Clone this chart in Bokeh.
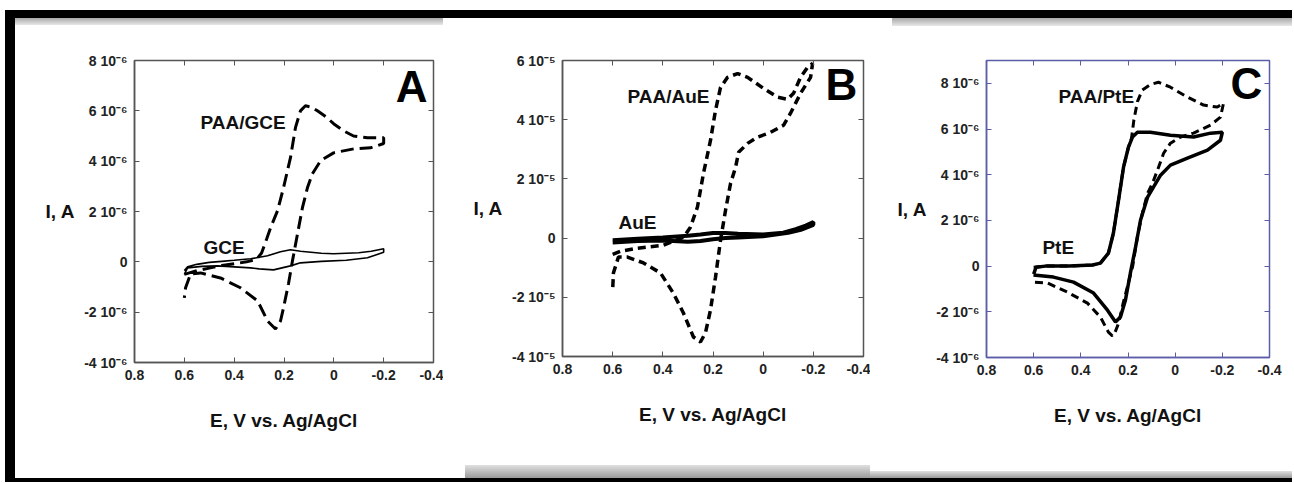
from bokeh.plotting import figure
from bokeh.models import Range1d, LinearAxis, FixedTicker, Label, Spacer
from bokeh.layouts import row, column
from bokeh.embed import file_html
from bokeh.resources import INLINE

# ---------------- data ----------------
x_ticks = [0.8, 0.6, 0.4, 0.2, 0.0, -0.2, -0.4]
x_tick_labels = ["0.8", "0.6", "0.4", "0.2", "0", "-0.2", "-0.4"]

# Panel A (current in units of 1e-6 A)
A_paa_E = [0.60, 0.55, 0.50, 0.45, 0.40, 0.35, 0.31, 0.29, 0.27, 0.254, 0.226, 0.202, 0.174, 0.154, 0.134, 0.114, 0.09, 0.066, 0.03, 0.001, -0.04, -0.079, -0.135, -0.20,
           -0.20, -0.147, -0.08, 0.001, 0.053, 0.086, 0.106, 0.126, 0.146, 0.166, 0.182, 0.202, 0.214, 0.234, 0.266, 0.306, 0.375, 0.455, 0.535, 0.575, 0.595, 0.60]
A_paa_I = [-0.50, -0.35, -0.25, -0.15, -0.08, 0.0, 0.1, 0.35, 0.9, 1.35, 2.03, 2.94, 4.14, 5.33, 6.0, 6.2, 6.15, 6.0, 5.75, 5.49, 5.2, 5.0, 4.93, 4.93,
           4.7, 4.53, 4.49, 4.33, 4.02, 3.5, 2.94, 2.15, 1.1, 0.04, -0.87, -1.83, -2.35, -2.67, -2.35, -1.55, -1.03, -0.64, -0.44, -0.48, -1.03, -1.43]
A_gce_E = [0.60, 0.587, 0.55, 0.50, 0.45, 0.40, 0.334, 0.266, 0.214, 0.174, 0.134, 0.05, 0.001, -0.10, -0.15, -0.20,
           -0.20, -0.135, -0.05, 0.05, 0.134, 0.174, 0.242, 0.30, 0.334, 0.40, 0.467, 0.53, 0.587, 0.60]
A_gce_I = [-0.35, -0.20, -0.10, -0.02, 0.02, 0.06, 0.12, 0.24, 0.40, 0.48, 0.42, 0.34, 0.32, 0.36, 0.42, 0.52,
           0.38, 0.16, 0.06, 0.02, -0.04, -0.16, -0.32, -0.28, -0.24, -0.20, -0.16, -0.18, -0.24, -0.5]
A_y_ticks = [-4, -2, 0, 2, 4, 6, 8]

# Panel B (current in units of 1e-5 A)
B_paa_E = [0.60, 0.57, 0.50, 0.397, 0.317, 0.29, 0.262, 0.238, 0.21, 0.19, 0.17, 0.142, 0.102, 0.062, -0.001, -0.057, -0.097, -0.121, -0.149, -0.177, -0.197,
           -0.189, -0.149, -0.109, -0.081, -0.029, 0.023, 0.062, 0.098, 0.11, 0.13, 0.15, 0.17, 0.19, 0.21, 0.23, 0.25, 0.278, 0.318, 0.358, 0.409, 0.477, 0.541, 0.577, 0.597, 0.60]
B_paa_I = [-0.55, -0.45, -0.34, -0.24, 0.03, 0.37, 1.05, 2.19, 3.3, 4.32, 5.09, 5.43, 5.56, 5.43, 5.06, 4.76, 4.69, 4.89, 5.43, 5.77, 5.9,
           5.43, 4.89, 4.22, 3.81, 3.57, 3.41, 3.2, 2.9, 2.39, 1.85, 0.94, -0.07, -1.32, -2.43, -3.2, -3.51, -3.34, -2.53, -1.86, -1.18, -0.84, -0.64, -0.64, -1.18, -1.75]
B_au_E = [0.60, 0.50, 0.40, 0.30, 0.25, 0.20, 0.15, 0.10, 0.0, -0.08, -0.13, -0.17, -0.20,
          -0.20, -0.15, -0.10, 0.0, 0.10, 0.15, 0.20, 0.25, 0.30, 0.40, 0.50, 0.60]
B_au_I = [-0.07, -0.02, 0.02, 0.08, 0.12, 0.17, 0.17, 0.15, 0.12, 0.18, 0.30, 0.42, 0.54,
          0.45, 0.28, 0.18, 0.06, 0.02, 0.0, -0.04, -0.10, -0.12, -0.08, -0.10, -0.15]
B_y_ticks = [-4, -2, 0, 2, 4, 6]

# Panel C (current in units of 1e-6 A)
C_paa_E = [0.60, 0.55, 0.45, 0.35, 0.317, 0.283, 0.262, 0.24, 0.219, 0.198, 0.185, 0.175, 0.16, 0.14, 0.105, 0.071, 0.02, -0.052, -0.12, -0.179, -0.205,
           -0.192, -0.15, -0.078, -0.023, 0.02, 0.049, 0.075, 0.096, 0.117, 0.139, 0.16, 0.18, 0.20, 0.22, 0.24, 0.255, 0.266, 0.283, 0.317, 0.372, 0.457, 0.541, 0.605]
C_paa_I = [-0.05, 0.0, 0.0, 0.05, 0.13, 0.57, 1.44, 2.89, 4.33, 5.21, 5.6, 6.4, 7.2, 7.7, 7.95, 8.05, 7.83, 7.4, 7.05, 6.96, 7.13,
           6.52, 6.17, 5.82, 5.65, 5.38, 4.94, 4.2, 3.63, 3.19, 2.32, 1.3, 0.0, -0.8, -1.6, -2.5, -2.9, -3.06, -2.89, -2.23, -1.62, -1.14, -0.74, -0.7]
C_pt_E = [0.60, 0.59, 0.55, 0.45, 0.35, 0.317, 0.283, 0.262, 0.24, 0.219, 0.198, 0.181, 0.16, 0.105, 0.02, -0.078, -0.15, -0.20,
          -0.192, -0.137, -0.052, 0.02, 0.062, 0.092, 0.117, 0.147, 0.168, 0.19, 0.211, 0.232, 0.253, 0.287, 0.346, 0.431, 0.516, 0.601]
C_pt_I = [-0.35, -0.05, 0.0, 0.0, 0.05, 0.13, 0.57, 1.44, 2.89, 4.33, 5.21, 5.65, 5.86, 5.86, 5.73, 5.65, 5.82, 5.86,
          5.51, 5.08, 4.73, 4.42, 3.98, 3.46, 3.02, 2.01, 0.83, -0.31, -1.49, -2.23, -2.45, -1.93, -1.18, -0.7, -0.48, -0.39]
C_y_ticks = [-4, -2, 0, 2, 4, 6, 8]

FONT = "Liberation Sans"
GRAD_TOP = {"background": "linear-gradient(to bottom, #a8a8a8, #e8e8e8)"}
GRAD_BOTTOM = {"background": "linear-gradient(to bottom, #e0e0e0, #9a9a9a)"}


def y_labels(ticks, sup):
    out = {}
    for t in ticks:
        out[t] = "0" if t == 0 else f"{t} 10{sup}"
    return out


def make_panel(width, height, borders, y_end, y_ticks, sup, frame_color):
    left, right, top, bottom = borders
    p = figure(width=width, height=height, x_range=Range1d(0.8, -0.4), y_range=Range1d(-4, y_end),
               output_backend="svg", toolbar_location=None,
               min_border_left=left, min_border_right=right, min_border_top=top, min_border_bottom=bottom)
    p.background_fill_color = "white"
    p.border_fill_color = "white"
    p.grid.visible = False
    p.outline_line_color = frame_color
    p.outline_line_width = 1.5

    p.xaxis.ticker = FixedTicker(ticks=x_ticks)
    p.xaxis.major_label_overrides = dict(zip(x_ticks, x_tick_labels))
    p.yaxis.ticker = FixedTicker(ticks=y_ticks)
    p.yaxis.major_label_overrides = y_labels(y_ticks, sup)
    for ax in (p.xaxis[0], p.yaxis[0]):
        ax.axis_line_color = frame_color
        ax.axis_line_width = 1.5
        ax.major_tick_line_color = frame_color
        ax.major_tick_in = 5
        ax.major_tick_out = 0
        ax.minor_tick_line_color = None
        ax.major_label_text_font = FONT
        ax.major_label_text_font_style = "bold"
        ax.major_label_text_font_size = "14px"
        ax.major_label_text_color = "#222222"
        ax.axis_label_text_font = FONT
        ax.axis_label_text_font_style = "bold"
        ax.axis_label_text_font_size = "19px"
        ax.axis_label_text_color = "#111111"
    p.xaxis.major_label_standoff = 7
    p.yaxis.major_label_standoff = 7
    p.xaxis.axis_label = "E, V vs. Ag/AgCl"
    p.xaxis.axis_label_standoff = 27
    p.yaxis.axis_label = "I, A"
    p.yaxis.axis_label_orientation = "horizontal"
    p.yaxis.axis_label_standoff = 6

    for loc, ticks in (("above", x_ticks), ("right", y_ticks)):
        ax = LinearAxis(ticker=FixedTicker(ticks=ticks), major_tick_in=5, major_tick_out=0,
                        major_tick_line_color=frame_color, axis_line_color=None,
                        minor_tick_line_color=None, major_label_standoff=0,
                        major_label_overrides={t: "" for t in ticks})
        p.add_layout(ax, loc)
    return p


def add_text(p, x, y, text, size):
    p.add_layout(Label(x=x, y=y, text=text, text_font=FONT, text_font_style="bold",
                       text_font_size=size, text_color="#111111", text_baseline="bottom"))


# ---- Panel A ----
pA = make_panel(428, 453, (119, 10, 35, 116), 8, A_y_ticks, "\u207b\u2076", "#555555")
pA.line(A_paa_E, A_paa_I, line_color="black", line_width=3, line_dash="13 6")
pA.line(A_gce_E, A_gce_I, line_color="black", line_width=1.6)
add_text(pA, 0.535, 5.13, "PAA/GCE", "19px")
add_text(pA, 0.523, 0.16, "GCE", "19px")
pA.add_layout(Label(x=-0.312, y=6.0, text="A", text_font=FONT, text_font_style="bold",
                    text_font_size="44px", text_align="center", text_baseline="bottom", text_color="black"))

# ---- Panel B ----
pB = make_panel(427, 447, (119, 7, 42, 109), 6, B_y_ticks, "\u207b\u2075", "#555555")
pB.line(B_paa_E, B_paa_I, line_color="black", line_width=3.5, line_dash="8 5")
pB.line(B_au_E, B_au_I, line_color="black", line_width=4)
add_text(pB, 0.541, 4.42, "PAA/AuE", "19px")
add_text(pB, 0.577, 0.17, "AuE", "19px")
pB.add_layout(Label(x=-0.312, y=4.35, text="B", text_font=FONT, text_font_style="bold",
                    text_font_size="44px", text_align="center", text_baseline="bottom", text_color="black"))

# ---- Panel C ----
pC = make_panel(422, 445, (116, 23, 34, 114), 9, C_y_ticks, "\u207b\u2076", "#5c5ca8")
pC.line(C_paa_E, C_paa_I, line_color="black", line_width=3, line_dash="8 5")
pC.line(C_pt_E, C_pt_I, line_color="black", line_width=3.5)
add_text(pC, 0.495, 6.96, "PAA/PtE", "19px")
add_text(pC, 0.563, 0.35, "PtE", "19px")
pC.add_layout(Label(x=-0.302, y=6.9, text="C", text_font=FONT, text_font_style="bold",
                    text_font_size="44px", text_align="center", text_baseline="bottom", text_color="black"))

WHITE = {"background-color": "white"}
colA = column(Spacer(width=428, height=7, styles=GRAD_TOP), pA,
              spacing=0, margin=(8, 0, 4, 10), styles=WHITE)
colB = column(pB, Spacer(width=405, height=13, margin=(0, 0, 0, 22), styles=GRAD_BOTTOM),
              spacing=0, margin=(8, 0, 4, 0), styles=WHITE)
colC = column(Spacer(width=400, height=8, margin=(0, 0, 0, 22), styles=GRAD_TOP), pC,
              Spacer(width=422, height=7, styles=GRAD_BOTTOM),
              spacing=0, margin=(8, 0, 4, 0), styles=WHITE)

layout = row(colA, colB, colC, spacing=0, margin=(10, 0, 0, 5),
             styles={"background-color": "black"})

open("out.html", "w").write(file_html(layout, INLINE))
